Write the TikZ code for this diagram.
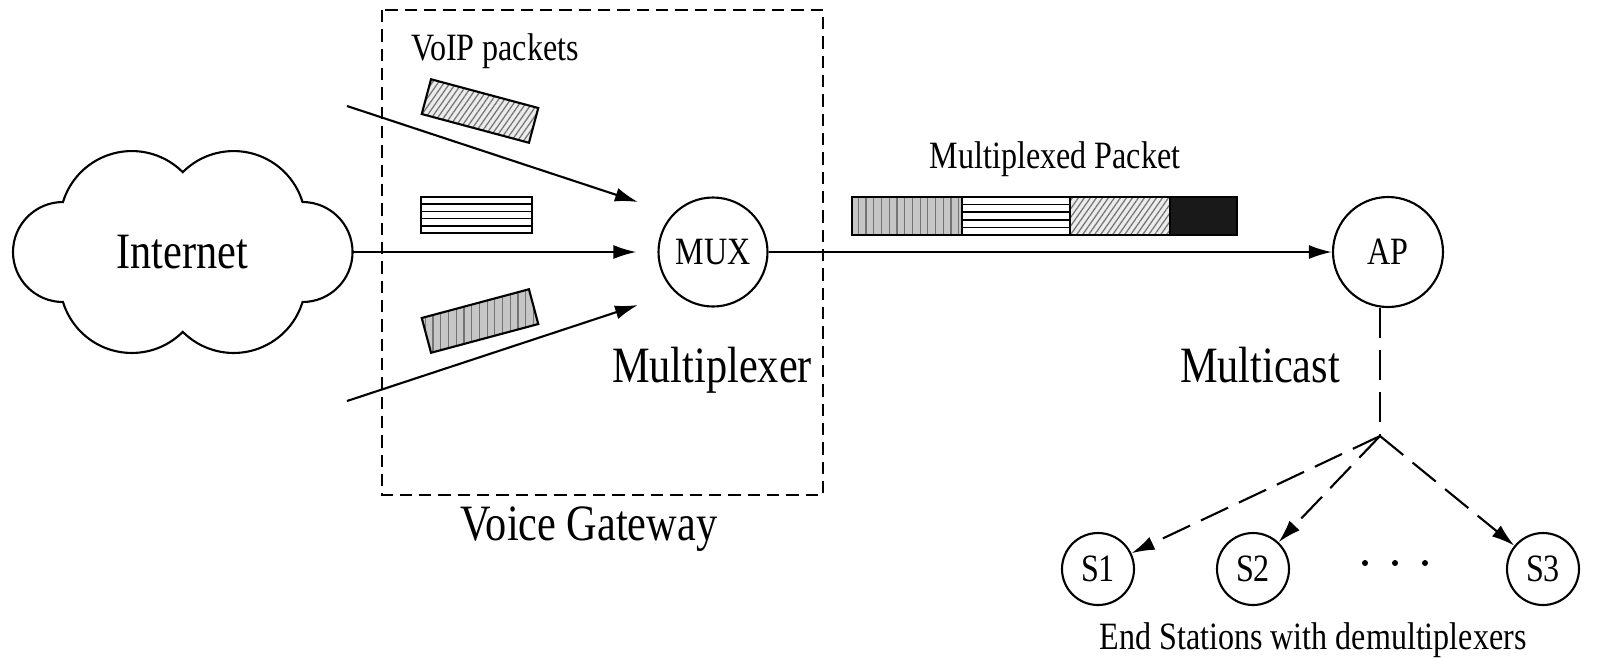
\documentclass[tikz,border=0pt]{standalone}
\usepackage{fontspec}
\setmainfont{Liberation Serif}[FakeStretch=0.83]
\usetikzlibrary{arrows.meta,patterns.meta,calc}

\begin{document}
\begin{tikzpicture}[x=1cm, y=1cm, line width=0.6pt,
    big/.style={font=\fontsize{14.5}{16}\selectfont},
    small/.style={font=\fontsize{11}{13}\selectfont},
    hop/.style={circle, draw, small, inner sep=0pt},
    arr/.style={-{Latex[length=0.23cm,width=0.14cm]}},
    pkt/.style={draw, rectangle, inner sep=0pt, outer sep=0pt, minimum height=0.36cm},
    hatch/.style={preaction={fill=gray!15}, pattern={Lines[angle=55,distance=1.4pt,line width=0.35pt]}, pattern color=black!55},
    vstripe/.style={preaction={fill=gray!45}, pattern={Lines[angle=90,distance=2.2pt,line width=0.35pt]}, pattern color=black!55},
    gwbox/.style={dash pattern=on 3.5pt off 2pt},
    mcast/.style={dash pattern=on 0.30cm off 0.12cm}]
    \useasboundingbox (0,0) rectangle (15.99,-6.57);
    % the internet cloud
    \draw (0.63,-2.02) arc[start angle=163, end angle=45, radius=0.72]
        arc[start angle=135, end angle=17, radius=0.72]
        arc[start angle=90, end angle=-90, radius=0.5]
        arc[start angle=-17, end angle=-135, radius=0.72]
        arc[start angle=-45, end angle=-163, radius=0.72]
        arc[start angle=270, end angle=90, radius=0.5] -- cycle;
    \node[big] (inet) at (1.82,-2.52) {Internet};
    \coordinate (inetE) at (3.52,-2.52);
    \coordinate (srcA) at (3.47,-1.06);
    \coordinate (tipA) at (6.38,-2.02);
    \coordinate (srcC) at (3.47,-4.01);
    \coordinate (tipC) at (6.38,-3.05);
    % voice gateway
    \draw[gwbox] (3.82,-0.10) rectangle (8.23,-4.95);
    \node[small, anchor=base] (voip) at (4.95,-0.60) {VoIP packets};
    \node[pkt, hatch, minimum width=1.11cm, rotate=-15] (pkA) at (4.80,-1.11) {};
    \node[pkt, minimum width=1.11cm] (pkB) at (4.765,-2.15) {};
    \foreach \k in {1,...,4}
        \draw[line width=0.5pt] ($(pkB.south west)!\k/5!(pkB.north west)$) -- ($(pkB.south east)!\k/5!(pkB.north east)$);
    \node[pkt, vstripe, minimum width=1.11cm, rotate=15] (pkC) at (4.80,-3.21) {};
    \node[hop, minimum size=1.09cm] (mux) at (7.13,-2.52) {MUX};
    \node[big, anchor=base] (muxlbl) at (7.12,-3.82) {Multiplexer};
    \node[big, anchor=base] (gwlbl) at (5.89,-5.40) {Voice Gateway};
    \draw[arr] (srcA) -- (tipA);
    \draw[arr, shorten >=0.21cm] (inetE) -- (mux);
    \draw[arr] (srcC) -- (tipC);
    % multiplexed packet
    \node[small, anchor=base] (mplbl) at (10.55,-1.68) {Multiplexed Packet};
    \node[pkt, vstripe, minimum width=1.10cm, minimum height=0.38cm] (seg1) at (9.07,-2.16) {};
    \node[pkt, minimum width=1.08cm, minimum height=0.38cm] (seg2) at (10.16,-2.16) {};
    \foreach \k in {1,...,4}
        \draw[line width=0.5pt] ($(seg2.south west)!\k/5!(seg2.north west)$) -- ($(seg2.south east)!\k/5!(seg2.north east)$);
    \node[pkt, hatch, minimum width=1.00cm, minimum height=0.38cm] (seg3) at (11.20,-2.16) {};
    \node[pkt, fill=black!90, minimum width=0.67cm, minimum height=0.38cm] (seg4) at (12.035,-2.16) {};
    \node[hop, minimum size=1.10cm] (AP) at (13.88,-2.52) {AP};
    \draw[arr] (mux) -- (AP);
    % multicast to the end stations
    \node[big, anchor=base] (mclbl) at (12.60,-3.82) {Multicast};
    \coordinate (split) at (13.80,-4.36);
    \draw[mcast] (AP.south -| split) -- (split);
    \node[hop, minimum size=0.72cm] (S1) at (10.98,-5.69) {S1};
    \node[hop, minimum size=0.72cm] (S2) at (12.53,-5.69) {S2};
    \node[hop, minimum size=0.72cm] (S3) at (15.43,-5.69) {S3};
    \foreach \x in {13.65,13.95,14.25}
        \fill (\x,-5.63) circle (0.03);
    \draw[mcast, arr] (split) -- (S1);
    \draw[mcast, arr] (split) -- (S2);
    \draw[mcast, arr] (split) -- (S3);
    \node[small, anchor=base] (eslbl) at (13.13,-6.49) {End Stations with demultiplexers};
\end{tikzpicture}
\end{document}
